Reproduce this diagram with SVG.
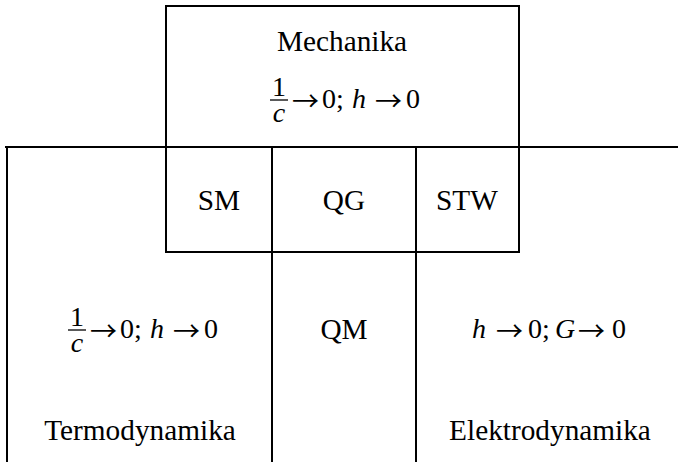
<svg xmlns="http://www.w3.org/2000/svg" width="678" height="462" viewBox="0 0 678 462">
<style>
.ln{stroke:#000;stroke-width:2;fill:none;stroke-linecap:square}
text{font-family:'Liberation Serif',serif;fill:#000}
.t{font-size:29.3px;text-anchor:middle}
.m{font-size:28px}
.c{text-anchor:middle}
.i{font-style:italic}
.ar{font-family:'Noto Sans CJK JP','Noto Sans CJK SC',serif;font-size:27px}
.bar{stroke:#000;stroke-width:1.3}
</style>
<rect width="678" height="462" fill="#fff"/>
<g id="grid-lines">
<path class="ln" d="M166 252 V6 H519 V252 Z"/>
<path class="ln" d="M6 147 H678"/>
<path class="ln" d="M7 147 V462"/>
<path class="ln" d="M272 147 V462"/>
<path class="ln" d="M416 147 V462"/>
</g>
<g id="mechanika">
<text class="t" x="342" y="51">Mechanika</text>
<g transform="translate(270,108)">
<line class="bar" x1="0" y1="-8" x2="18" y2="-8"/>
<text class="m c"><tspan x="9" y="-12">1</tspan><tspan class="i" x="9" y="14">c</tspan></text>
<text class="m" y="0"><tspan x="52">0;</tspan><tspan x="82" class="i">h</tspan><tspan x="136">0</tspan></text>
<text class="ar" x="22" y="2.5">→</text>
<text class="ar" x="105" y="2.5">→</text>
</g>
</g>
<g id="sm"><text class="t" x="219" y="210">SM</text></g>
<g id="qg"><text class="t" x="344" y="210">QG</text></g>
<g id="stw"><text class="t" x="467" y="210">STW</text></g>
<g id="termodynamika">
<g transform="translate(68,338)">
<line class="bar" x1="0" y1="-8" x2="18" y2="-8"/>
<text class="m c"><tspan x="9" y="-12">1</tspan><tspan class="i" x="9" y="14">c</tspan></text>
<text class="m" y="0"><tspan x="52">0;</tspan><tspan x="82" class="i">h</tspan><tspan x="136">0</tspan></text>
<text class="ar" x="22" y="2.5">→</text>
<text class="ar" x="105" y="2.5">→</text>
</g>
<text class="t" x="140" y="440">Termodynamika</text>
</g>
<g id="qm"><text class="t" x="344" y="339">QM</text></g>
<g id="elektrodynamika">
<text class="m" y="338"><tspan x="472" class="i">h</tspan><tspan x="528">0;</tspan><tspan x="555" class="i">G</tspan><tspan x="612">0</tspan></text>
<text class="ar" x="496" y="340.5">→</text>
<text class="ar" x="578" y="340.5">→</text>
<text class="t" x="550" y="440">Elektrodynamika</text>
</g>
</svg>
